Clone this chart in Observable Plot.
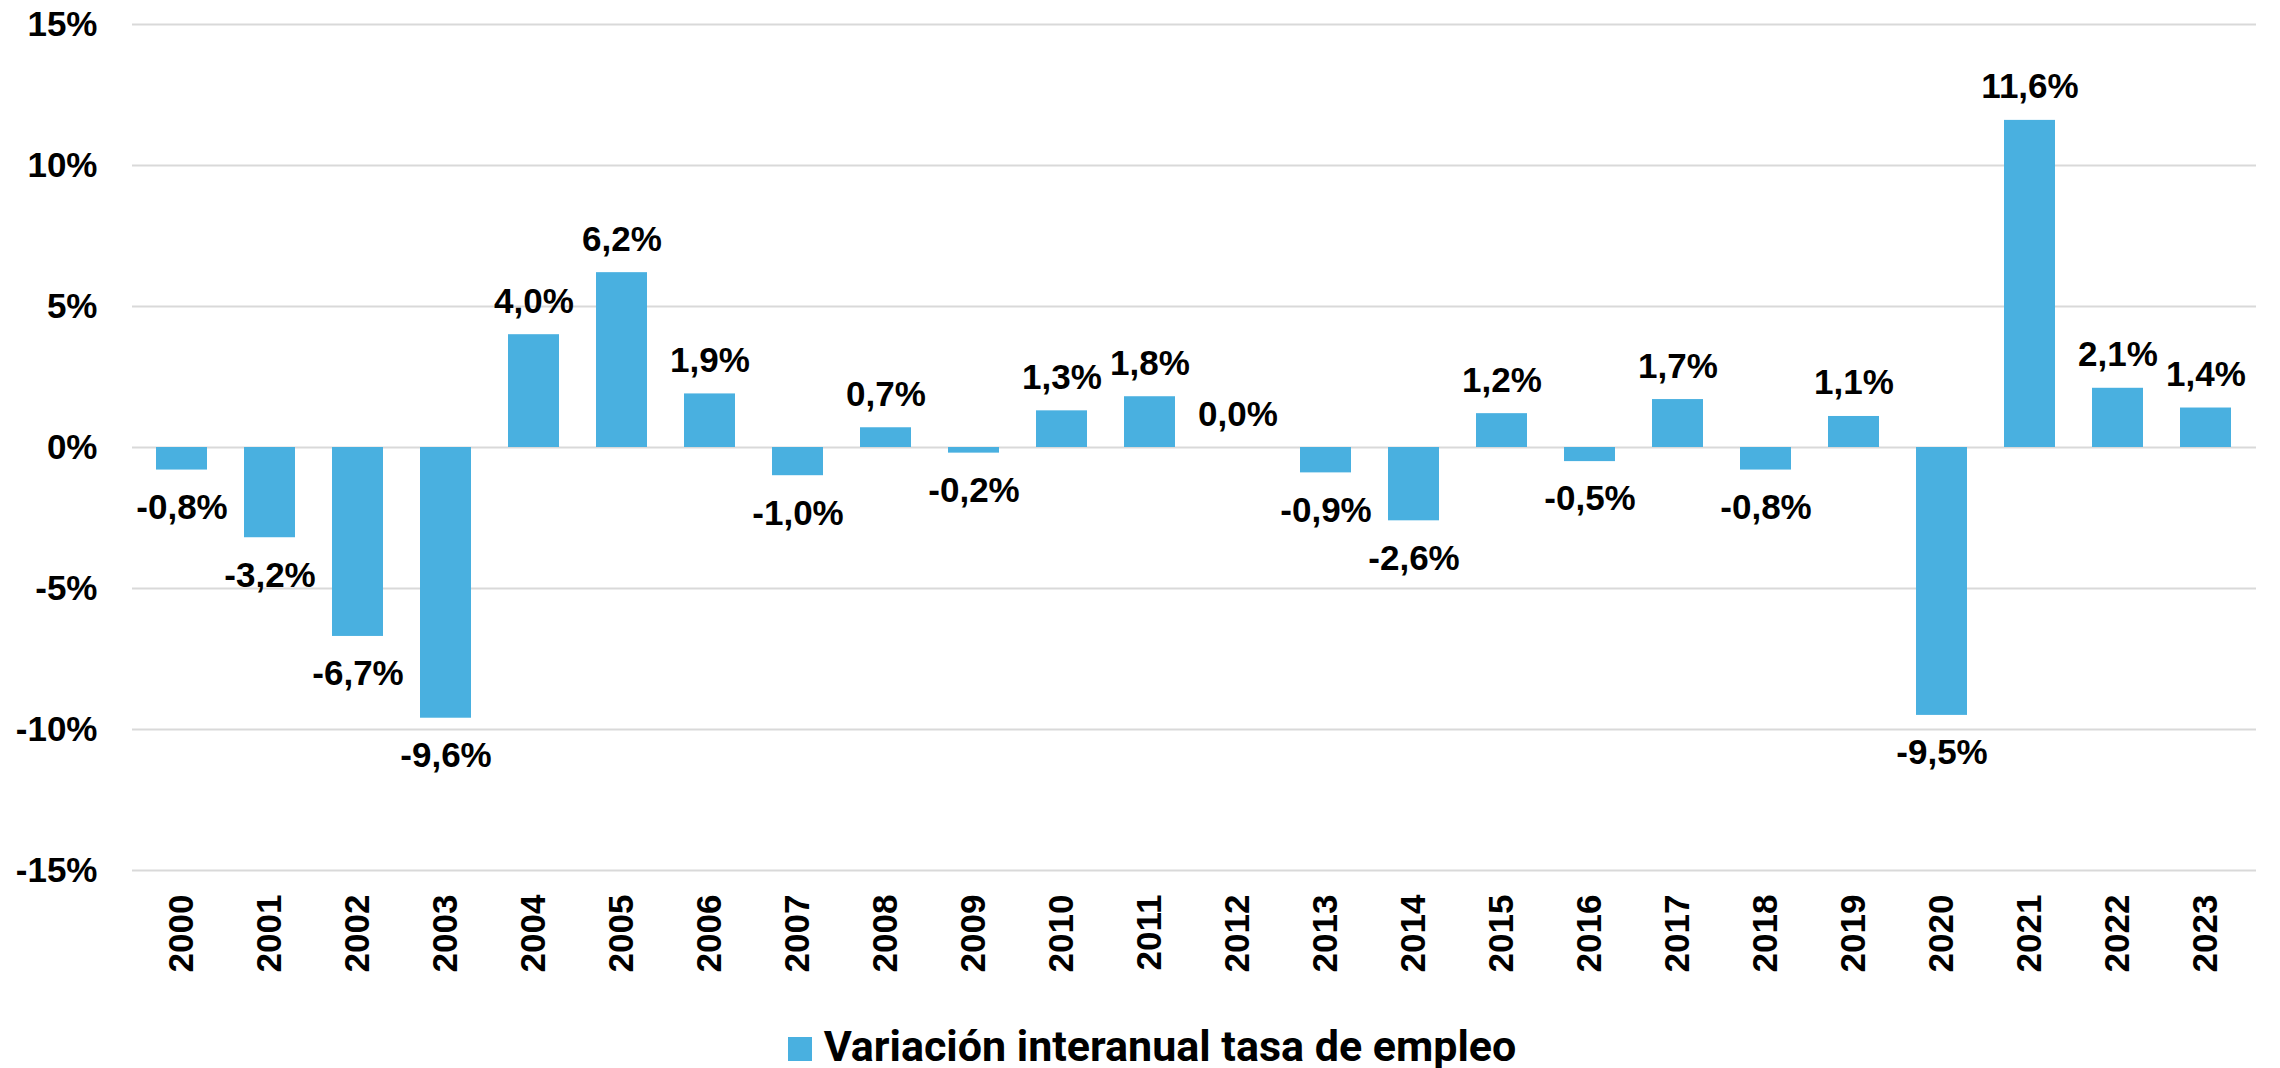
<!DOCTYPE html>
<html>
<head>
<meta charset="utf-8">
<script src="https://cdn.jsdelivr.net/npm/d3@7"></script>
<script src="https://cdn.jsdelivr.net/npm/@observablehq/plot@0.6"></script>
<style>
  html, body { margin: 0; padding: 0; background: #fff; }
  body { position: relative; width: 2280px; height: 1068px; overflow: hidden; }
  #chart svg { display: block; }
  #legend { position: absolute; left: 0; top: 1025px; width: 2280px; display: flex; justify-content: center; align-items: flex-start; gap: 12px; padding-left: 24px; box-sizing: border-box; }
  #legend .sw { width: 24px; height: 24px; background: #49B0E0; margin-top: 12px; }
  #legend .lbl { font-family: Roboto, "Liberation Sans", sans-serif; font-weight: 700; font-size: 43px; color: #000; line-height: 1; }
</style>
</head>
<body>
<div id="chart"></div>
<div id="legend"><div class="sw"></div><div class="lbl">Variación interanual tasa de empleo</div></div>
<script>
const years = ["2000","2001","2002","2003","2004","2005","2006","2007","2008","2009","2010","2011","2012","2013","2014","2015","2016","2017","2018","2019","2020","2021","2022","2023"];
const values = [-0.8, -3.2, -6.7, -9.6, 4.0, 6.2, 1.9, -1.0, 0.7, -0.2, 1.3, 1.8, 0.0, -0.9, -2.6, 1.2, -0.5, 1.7, -0.8, 1.1, -9.5, 11.6, 2.1, 1.4];
const yTicks = [-15, -10, -5, 0, 5, 10, 15];
const seriesName = "Variación interanual tasa de empleo";

const data = years.map((y, i) => ({year: y, value: values[i]}));
const fmt = v => v.toFixed(1).replace(".", ",") + "%";
const barColor = "#49B0E0";
const font = "'Liberation Sans', Arial, sans-serif";

const chart = Plot.plot({
  width: 2280,
  height: 1000,
  marginLeft: 132,
  marginRight: 24,
  marginTop: 24,
  marginBottom: 130,
  style: {fontFamily: font, fontWeight: "bold", color: "#000", background: "#fff"},
  x: {domain: years, paddingInner: 0.42, paddingOuter: 0.21, label: null},
  y: {domain: [-15, 15], label: null},
  marks: [
    Plot.gridY(yTicks, {stroke: "#D9D9D9", strokeOpacity: 1, strokeWidth: 2}),
    Plot.barY(data, {x: "year", y: "value", fill: barColor}),
    Plot.text(data.filter(d => d.value >= 0), {x: "year", y: "value", text: d => fmt(d.value), lineAnchor: "bottom", dy: -22, fontSize: 35, fontWeight: "bold", fill: "#000"}),
    Plot.text(data.filter(d => d.value < 0), {x: "year", y: "value", text: d => fmt(d.value), lineAnchor: "top", dy: 24, fontSize: 35, fontWeight: "bold", fill: "#000"}),
    Plot.axisY(yTicks, {tickSize: 0, tickPadding: 35, tickFormat: d => d + "%", fontSize: 35, fontWeight: "bold", label: null}),
    Plot.axisX({tickSize: 0, tickPadding: 24, tickRotate: -90, fontSize: 35, fontWeight: "bold", label: null})
  ]
});
document.getElementById("chart").appendChild(chart);
</script>
</body>
</html>
